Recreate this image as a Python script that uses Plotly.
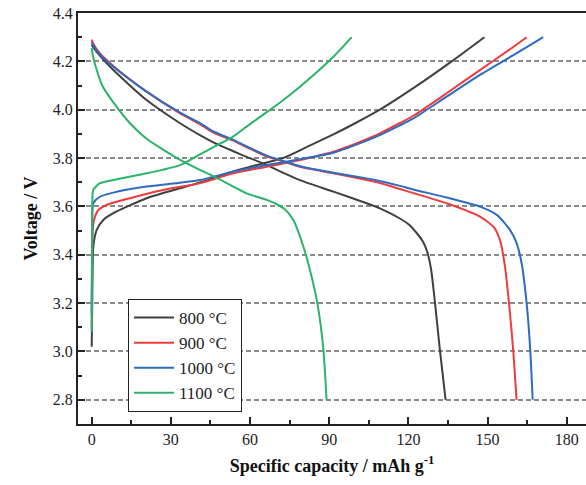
import plotly.graph_objects as go

# ---------------- data ----------------
labels = ["800 °C", "900 °C", "1000 °C", "1100 °C"]
colors = ["#404040", "#ee3b3b", "#2d6cc0", "#2bb36b"]

# 800 °C
chg_x_800 = [0, 0.3, 0.6, 1.9, 4.4, 8.2, 20.8, 33.5, 44.8, 53.7, 62, 72.6, 82, 91.6, 100, 109.2, 122.0, 136.4, 148.8]
chg_v_800 = [3.02, 3.30, 3.434, 3.503, 3.544, 3.572, 3.634, 3.675, 3.712, 3.745, 3.770, 3.800, 3.848, 3.898, 3.945, 4.000, 4.090, 4.200, 4.30]
dis_x_800 = [0, 0.5, 3, 8.2, 20.8, 33.5, 41, 46.1, 53.7, 58.7, 66.3, 71.4, 78.9, 91.6, 104.2, 109.2, 116.8, 120.5, 123.2, 125.5, 127.2, 128.6, 130.1, 132.0, 134.1]
dis_v_800 = [4.27, 4.26, 4.225, 4.164, 4.04, 3.944, 3.895, 3.865, 3.828, 3.805, 3.772, 3.745, 3.709, 3.661, 3.613, 3.592, 3.550, 3.522, 3.489, 3.455, 3.41, 3.34, 3.2, 3.0, 2.8]

# 900 °C
chg_x_900 = [0, 0.2, 0.5, 1.25, 2.5, 5.7, 14.5, 27.1, 41, 53.7, 66.3, 78.9, 91.6, 104.2, 109.2, 116.8, 121.9, 134.5, 147.1, 159.8, 164.8]
chg_v_900 = [3.10, 3.40, 3.52, 3.558, 3.585, 3.606, 3.634, 3.668, 3.696, 3.737, 3.764, 3.792, 3.826, 3.878, 3.902, 3.945, 3.975, 4.068, 4.164, 4.26, 4.30]
dis_x_900 = [0, 0.5, 3, 8.2, 20.8, 33.5, 41, 46.1, 53.7, 58.7, 66.3, 71.4, 78.9, 91.6, 104.2, 109.2, 116.8, 121.9, 134.5, 147.1, 152.2, 154.7, 156.6, 158.5, 159.8, 161.0]
dis_v_900 = [4.29, 4.275, 4.235, 4.181, 4.075, 3.985, 3.94, 3.905, 3.872, 3.845, 3.806, 3.790, 3.764, 3.737, 3.709, 3.697, 3.672, 3.655, 3.613, 3.558, 3.516, 3.461, 3.351, 3.158, 2.993, 2.80]

# 1000 °C
chg_x_1000 = [0, 0.2, 0.6, 3.1, 8.2, 20.8, 33.5, 41, 53.7, 66.3, 78.9, 91.6, 104.2, 109.2, 116.8, 121.9, 134.5, 147.1, 159.8, 171.1]
chg_v_1000 = [3.15, 3.50, 3.613, 3.64, 3.657, 3.682, 3.698, 3.709, 3.744, 3.771, 3.795, 3.822, 3.872, 3.895, 3.935, 3.964, 4.054, 4.144, 4.226, 4.30]
dis_x_1000 = [0, 0.5, 3, 8.2, 20.8, 33.5, 41, 46.1, 53.7, 58.7, 66.3, 71.4, 78.9, 91.6, 104.2, 109.2, 116.8, 121.9, 134.5, 147.1, 153.5, 158.5, 161.0, 162.9, 164.8, 166.1, 167.1]
dis_v_1000 = [4.28, 4.268, 4.23, 4.178, 4.075, 3.988, 3.945, 3.91, 3.875, 3.848, 3.81, 3.792, 3.766, 3.739, 3.716, 3.705, 3.685, 3.670, 3.637, 3.599, 3.565, 3.503, 3.448, 3.365, 3.20, 3.02, 2.80]

# 1100 °C
chg_x_1100 = [0, 0.2, 0.6, 3.1, 8.2, 20.8, 33.5, 41, 46.1, 53.7, 58.7, 66.3, 71.4, 78.9, 91.6, 98.5]
chg_v_1100 = [3.08, 3.55, 3.668, 3.696, 3.709, 3.737, 3.771, 3.815, 3.845, 3.89, 3.93, 3.99, 4.03, 4.095, 4.219, 4.30]
dis_x_1100 = [0, 0.5, 1.9, 4, 8.2, 14.5, 20.8, 33.5, 41, 46.1, 53.7, 58.7, 66.3, 70, 73, 76.4, 80.2, 82.7, 85.5, 87.8, 89.0]
dis_v_1100 = [4.255, 4.22, 4.164, 4.10, 4.03, 3.944, 3.880, 3.792, 3.751, 3.725, 3.682, 3.654, 3.627, 3.61, 3.59, 3.544, 3.434, 3.337, 3.20, 3.007, 2.80]

x_ticks = [0, 30, 60, 90, 120, 150, 180]
y_ticks = [2.8, 3.0, 3.2, 3.4, 3.6, 3.8, 4.0, 4.2, 4.4]

series = [
    (chg_x_800, chg_v_800, dis_x_800, dis_v_800),
    (chg_x_900, chg_v_900, dis_x_900, dis_v_900),
    (chg_x_1000, chg_v_1000, dis_x_1000, dis_v_1000),
    (chg_x_1100, chg_v_1100, dis_x_1100, dis_v_1100),
]

fig = go.Figure()
for (cx, cv, dx, dv), name, col in zip(series, labels, colors):
    fig.add_trace(go.Scatter(
        x=list(cx) + [None] + list(dx),
        y=list(cv) + [None] + list(dv),
        mode="lines", name=name,
        line=dict(color=col, width=2, shape="spline", smoothing=0.6),
        connectgaps=False,
    ))

serif = "Liberation Serif, Times New Roman, serif"

fig.update_layout(
    width=586, height=485,
    margin=dict(l=78, r=0, t=13, b=61),
    paper_bgcolor="white", plot_bgcolor="white",
    font=dict(family=serif, size=16, color="#222"),
    showlegend=True,
    legend=dict(
        x=(128 - 78) / 508, y=(424 - 299) / 411, xanchor="left", yanchor="top",
        bordercolor="#222", borderwidth=1, bgcolor="white",
        font=dict(family=serif, size=17, color="#222"),
        tracegroupgap=0, itemwidth=40,
    ),
)

fig.update_xaxes(
    range=[-5.19, 187.3],
    tickvals=x_ticks, ticktext=[str(v) for v in x_ticks],
    ticks="inside", ticklen=7, tickwidth=1.5, tickcolor="#222",
    minor=dict(ticks="inside", ticklen=4, tickwidth=1.5, tickcolor="#222", dtick=15, tick0=0, showgrid=False),
    showline=True, linewidth=2, linecolor="#222", mirror=True,
    showgrid=False, zeroline=False,
    tickfont=dict(family=serif, size=16, color="#222"),
    title=dict(text="<b>Specific capacity / mAh g<sup>-1</sup></b>", font=dict(family=serif, size=18, color="#111"), standoff=12),
)
fig.update_yaxes(
    range=[2.7, 4.4],
    tickvals=y_ticks, ticktext=[f"{v:.1f}" for v in y_ticks],
    ticks="inside", ticklen=7, tickwidth=1.5, tickcolor="#222",
    minor=dict(ticks="inside", ticklen=4, tickwidth=1.5, tickcolor="#222", dtick=0.1, tick0=2.7, showgrid=False),
    showline=True, linewidth=2, linecolor="#222", mirror=False,
    showgrid=True, gridcolor="#8a8a8a", gridwidth=1.5, griddash="5px,3px",
    zeroline=False,
    tickfont=dict(family=serif, size=16, color="#222"),
    title=dict(text="<b>Voltage / V</b>", font=dict(family=serif, size=18, color="#111"), standoff=10),
)

fig.write_html("out.html")
